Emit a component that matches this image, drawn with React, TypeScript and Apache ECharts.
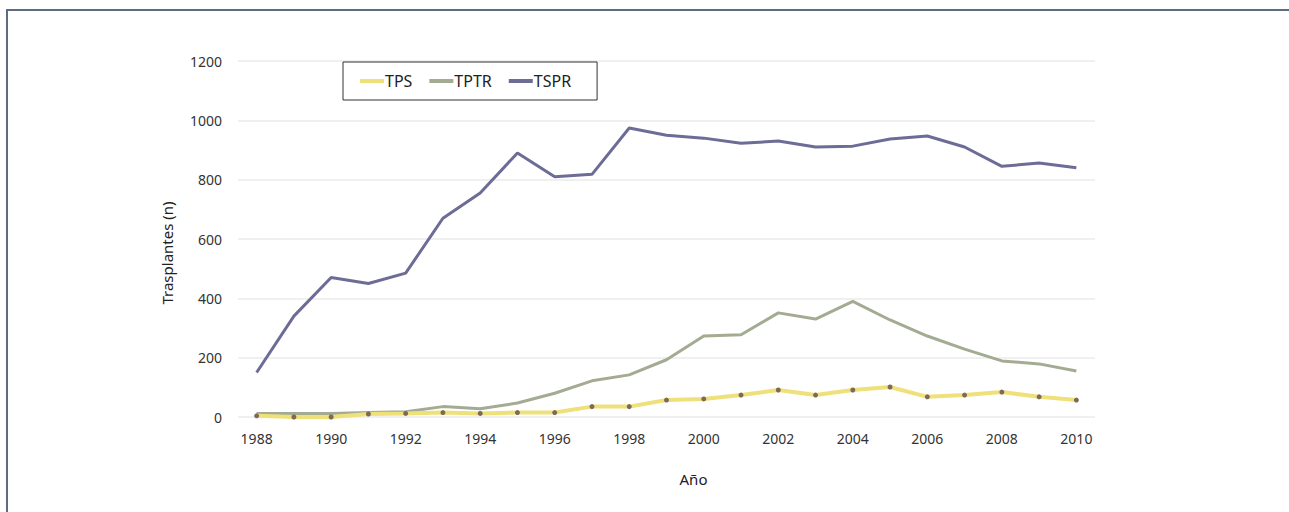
import React, { useEffect, useRef } from "react";
import * as echarts from "echarts";

const years = ["1988","1989","1990","1991","1992","1993","1994","1995","1996","1997","1998","1999","2000","2001","2002","2003","2004","2005","2006","2007","2008","2009","2010"];
const tps = [4, 0, 0, 10, 12, 15, 12, 15, 15, 35, 35, 57, 61, 74, 91, 74, 91, 101, 68, 74, 84, 68, 57];
const tptr = [12, 12, 12, 15, 18, 35, 28, 47, 80, 122, 142, 193, 273, 277, 351, 330, 390, 327, 273, 229, 189, 179, 155];
const tspr = [150, 340, 470, 450, 485, 670, 755, 890, 810, 818, 974, 950, 940, 923, 930, 910, 913, 937, 947, 910, 845, 856, 840];

const FONT = "Noto Sans";

export default function App() {
  const ref = useRef<HTMLDivElement>(null);
  useEffect(() => {
    const chart = echarts.init(ref.current!, null, { renderer: "svg" });
    chart.setOption({
      animation: false,
      backgroundColor: "#ffffff",
      textStyle: { fontFamily: FONT },
      graphic: [
        {
          type: "rect",
          shape: { x: 7, y: 10, width: 1400, height: 700 },
          style: { fill: "none", stroke: "#5b6d7e", lineWidth: 2 },
          silent: true,
        },
      ],
      legend: {
        left: 343,
        top: 62,
        padding: [11, 26, 11, 17],
        borderColor: "#333333",
        borderWidth: 1,
        itemGap: 17,
        itemWidth: 24,
        itemHeight: 4,
        icon: "rect",
        textStyle: { fontFamily: FONT, fontSize: 16, color: "#222", padding: [0, 0, 0, -4] },
        data: [
          { name: "TPS", itemStyle: { color: "#f0e07a" } },
          { name: "TPTR" },
          { name: "TSPR" },
        ],
      },
      grid: { left: 238, right: 194, top: 61, bottom: 95, containLabel: false },
      xAxis: {
        type: "category",
        data: years,
        boundaryGap: true,
        name: "Año",
        nameLocation: "middle",
        nameGap: 54,
        nameTextStyle: { fontFamily: FONT, fontSize: 15, color: "#222", padding: [0, 0, 0, 54] },
        axisLine: { show: false },
        axisTick: { show: false },
        axisLabel: { interval: 1, fontFamily: FONT, fontSize: 14, color: "#333", margin: 14 },
      },
      yAxis: {
        type: "value",
        min: 0,
        max: 1200,
        interval: 200,
        name: "Trasplantes (n)",
        nameLocation: "middle",
        nameGap: 64,
        nameTextStyle: { fontFamily: FONT, fontSize: 15, color: "#222", padding: [0, 28, 0, 0] },
        axisLine: { show: false },
        axisTick: { show: false },
        axisLabel: { fontFamily: FONT, fontSize: 14, color: "#333", margin: 16, formatter: (v: number) => String(v) },
        splitLine: { lineStyle: { color: "#f0f0f0", width: 2 } },
      },
      series: [
        {
          name: "TPS",
          type: "line",
          data: tps,
          symbol: "circle",
          symbolSize: 5,
          itemStyle: { color: "#7a6a58" },
          lineStyle: { color: "#f0e07a", width: 4 },
          z: 4,
        },
        {
          name: "TPTR",
          type: "line",
          data: tptr,
          showSymbol: false,
          symbol: "none",
          itemStyle: { color: "#a3ab92" },
          lineStyle: { color: "#a3ab92", width: 3 },
          z: 3,
        },
        {
          name: "TSPR",
          type: "line",
          data: tspr,
          showSymbol: false,
          symbol: "none",
          itemStyle: { color: "#6c6c96" },
          lineStyle: { color: "#6c6c96", width: 3 },
          z: 3,
        },
      ],
    });
    return () => chart.dispose();
  }, []);
  return <div ref={ref} style={{ width: 1289, height: 512, position: "absolute", left: 0, top: 0 }} />;
}
